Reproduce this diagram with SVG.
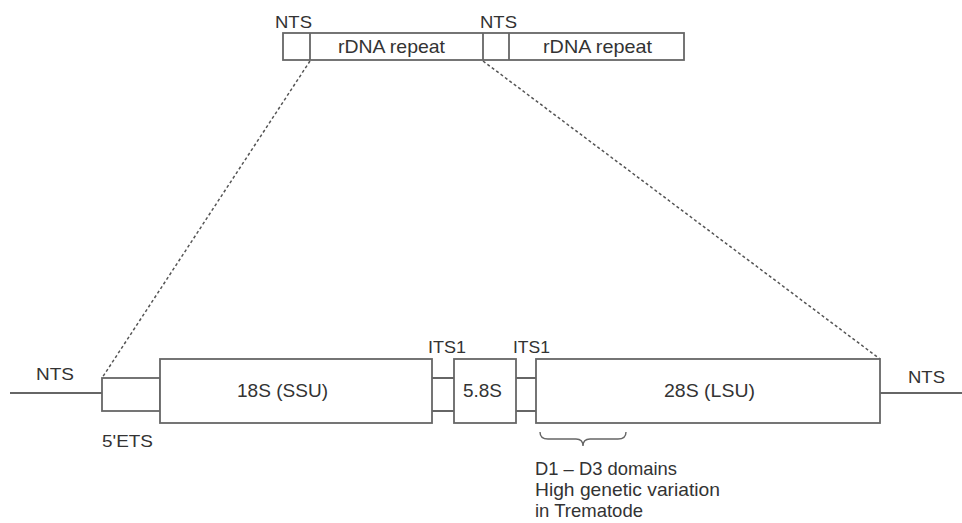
<svg xmlns="http://www.w3.org/2000/svg" width="962" height="523" viewBox="0 0 962 523">
<style>
.box{fill:#fff;stroke:#666;stroke-width:1.8}
.ln{fill:none;stroke:#666;stroke-width:1.8}
.dash{fill:none;stroke:#555;stroke-width:1.5;stroke-dasharray:3 2.5}
text{font-family:"Liberation Sans",Arial,sans-serif;fill:#333}
.s{font-size:17px}
.l{font-size:18.5px}
</style>
<rect width="962" height="523" fill="#fff"/>
<g id="connectors">
<path class="dash" d="M310,61 L102,378"/>
<path class="dash" d="M483,61 L880,359"/>
<path class="ln" d="M10,393 H102"/>
<path class="ln" d="M880,393 H962"/>
<path class="ln" d="M432,378 H454 M432,411 H454"/>
<path class="ln" d="M516,378 H536 M516,411 H536"/>
<path class="ln" style="stroke-width:1.4" d="M540,432 Q540,439 548,439 L576,439 Q583,439 583,446 Q583,439 590,439 L618,439 Q626,439 626,432"/>
</g>
<g id="repeat-bar">
<rect class="box" x="283" y="33" width="401" height="27"/>
<path class="ln" d="M310,33 V60 M483,33 V60 M509,33 V60"/>
<text class="s" x="275" y="28" textLength="37" lengthAdjust="spacingAndGlyphs">NTS</text>
<text class="s" x="480" y="28" textLength="37" lengthAdjust="spacingAndGlyphs">NTS</text>
<text class="l" x="338" y="53" textLength="107" lengthAdjust="spacingAndGlyphs">rDNA repeat</text>
<text class="l" x="543" y="53" textLength="109" lengthAdjust="spacingAndGlyphs">rDNA repeat</text>
</g>
<g id="nts-left">
<text class="s" x="36" y="380" textLength="38" lengthAdjust="spacingAndGlyphs">NTS</text>
</g>
<g id="ets">
<rect class="box" x="102" y="378" width="58" height="33"/>
<text class="s" x="102" y="447" textLength="51" lengthAdjust="spacingAndGlyphs">5'ETS</text>
</g>
<g id="ssu">
<rect class="box" x="160" y="359" width="272" height="64"/>
<text class="l" x="237" y="397" textLength="91" lengthAdjust="spacingAndGlyphs">18S (SSU)</text>
</g>
<g id="its1-a">
<text class="s" x="428" y="353" textLength="38" lengthAdjust="spacingAndGlyphs">ITS1</text>
</g>
<g id="s58">
<rect class="box" x="454" y="359" width="62" height="64"/>
<text class="l" x="463" y="397" textLength="39" lengthAdjust="spacingAndGlyphs">5.8S</text>
</g>
<g id="its1-b">
<text class="s" x="513" y="353" textLength="37" lengthAdjust="spacingAndGlyphs">ITS1</text>
</g>
<g id="lsu">
<rect class="box" x="536" y="359" width="344" height="64"/>
<text class="l" x="664" y="397" textLength="91" lengthAdjust="spacingAndGlyphs">28S (LSU)</text>
</g>
<g id="nts-right">
<text class="s" x="908" y="383" textLength="37" lengthAdjust="spacingAndGlyphs">NTS</text>
</g>
<g id="domains-note">
<text class="l" x="535" y="475" textLength="142" lengthAdjust="spacingAndGlyphs">D1 – D3 domains</text>
<text class="l" x="535" y="496" textLength="185" lengthAdjust="spacingAndGlyphs">High genetic variation</text>
<text class="l" x="535" y="517" textLength="108" lengthAdjust="spacingAndGlyphs">in Trematode</text>
</g>
</svg>
